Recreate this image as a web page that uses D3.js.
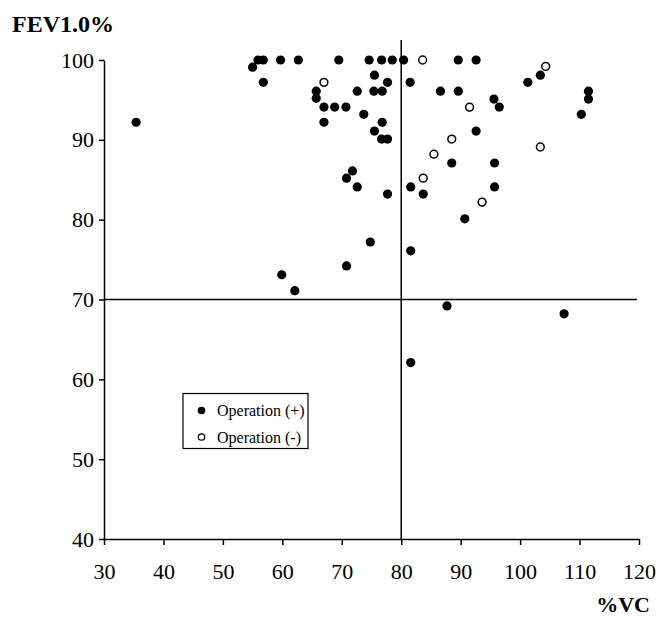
<!DOCTYPE html>
<html>
<head>
<meta charset="utf-8">
<title>FEV1.0% vs %VC</title>
<style>
    body { margin: 0; background: #fff; }
    svg { display: block; }
    .axis path, .axis line { stroke: #000; stroke-width: 1.5px; }
    .axis text { font: 22px "Liberation Serif", "Times New Roman", serif; fill: #000; }
    .title { font: bold 22px "Liberation Serif", "Times New Roman", serif; }
    .legend text { font: 16px "Liberation Serif", "Times New Roman", serif; }
</style>
</head>
<body>
<script src="https://cdnjs.cloudflare.com/ajax/libs/d3/7.8.5/d3.min.js"></script>
<script>
    // Operation (+) : [%VC, FEV1.0%]
    const opPlus = [
        [55.0, 99.1], [55.9, 100], [56.8, 100], [56.8, 97.2], [59.7, 100], [62.7, 100],
        [69.5, 100], [74.6, 100], [76.7, 100], [78.5, 100], [80.4, 100], [89.6, 100], [92.6, 100],
        [75.5, 98.1], [77.7, 97.2], [81.5, 97.2], [101.3, 97.2], [103.4, 98.1],
        [65.7, 96.1], [65.7, 95.2], [72.6, 96.1], [75.4, 96.1], [76.8, 96.1],
        [86.6, 96.1], [89.6, 96.1], [95.6, 95.1], [96.5, 94.1], [111.5, 96.1], [111.5, 95.1],
        [67.0, 94.1], [68.8, 94.1], [70.7, 94.1], [73.7, 93.2], [110.3, 93.2],
        [35.4, 92.2], [67.0, 92.2], [76.8, 92.2], [75.5, 91.1], [92.6, 91.1],
        [76.7, 90.1], [77.7, 90.1],
        [71.8, 86.1], [70.8, 85.2], [88.5, 87.1], [95.7, 87.1],
        [72.6, 84.1], [81.6, 84.1], [95.7, 84.1], [77.7, 83.2], [83.7, 83.2],
        [90.7, 80.1], [74.8, 77.2], [81.6, 76.1], [70.8, 74.2], [59.9, 73.1],
        [62.1, 71.1], [87.7, 69.2], [107.4, 68.2], [81.6, 62.1]
    ];
    // Operation (-)
    const opMinus = [
        [67.0, 97.2], [83.6, 100], [104.3, 99.2], [91.5, 94.1], [88.5, 90.1],
        [103.4, 89.1], [85.5, 88.2], [83.7, 85.2], [93.6, 82.2]
    ];
    const xTicks = [30, 40, 50, 60, 70, 80, 90, 100, 110, 120];
    const yTicks = [40, 50, 60, 70, 80, 90, 100];
    const cutX = 80;
    const cutY = 70;
    const legendLabels = ["Operation (+)", "Operation (-)"];

    const width = 661, height = 618;
    const svg = d3.select("body").append("svg")
        .attr("width", width)
        .attr("height", height);

    const x = d3.scaleLinear().domain([30, 120]).range([104, 639]);
    const y = d3.scaleLinear().domain([40, 100]).range([539, 60]);

    // axes
    const xAxis = svg.append("g")
        .attr("class", "axis")
        .attr("transform", `translate(0,${y(40)})`)
        .call(d3.axisBottom(x).tickValues(xTicks).tickSize(6).tickSizeOuter(0));
    xAxis.selectAll("text").attr("dy", null).attr("y", 40);

    const yAxis = svg.append("g")
        .attr("class", "axis")
        .attr("transform", `translate(${x(30)},0)`)
        .call(d3.axisLeft(y).tickValues(yTicks).tickSize(5).tickSizeOuter(0).tickPadding(5));

    // reference lines
    svg.append("line")
        .attr("x1", x(cutX)).attr("x2", x(cutX))
        .attr("y1", 40).attr("y2", y(40))
        .attr("stroke", "#000").attr("stroke-width", 1.5);
    svg.append("line")
        .attr("x1", x(30)).attr("x2", x(120) - 2)
        .attr("y1", y(cutY)).attr("y2", y(cutY))
        .attr("stroke", "#000").attr("stroke-width", 1.5);

    // points
    svg.append("g").selectAll("circle")
        .data(opPlus)
        .join("circle")
        .attr("cx", d => x(d[0]))
        .attr("cy", d => y(d[1]))
        .attr("r", 4.6)
        .attr("fill", "#000");

    svg.append("g").selectAll("circle")
        .data(opMinus)
        .join("circle")
        .attr("cx", d => x(d[0]))
        .attr("cy", d => y(d[1]))
        .attr("r", 3.9)
        .attr("fill", "#fff")
        .attr("stroke", "#000")
        .attr("stroke-width", 1.5);

    // axis titles
    svg.append("text")
        .attr("class", "title")
        .attr("x", 12).attr("y", 32)
        .style("font-size", "24px")
        .text("FEV1.0%");
    svg.append("text")
        .attr("class", "title")
        .attr("x", 650).attr("y", 612)
        .attr("text-anchor", "end")
        .text("%VC");

    // legend
    const legend = svg.append("g").attr("class", "legend");
    legend.append("rect")
        .attr("x", 183).attr("y", 393.5)
        .attr("width", 125).attr("height", 55)
        .attr("fill", "none")
        .attr("stroke", "#000")
        .attr("stroke-width", 1.2);
    const rows = legend.selectAll("g.row")
        .data(legendLabels)
        .join("g")
        .attr("class", "row")
        .attr("transform", (d, i) => `translate(0,${410.5 + i * 26.5})`);
    rows.append("circle")
        .attr("cx", 201.5)
        .attr("cy", 0)
        .attr("r", (d, i) => i === 0 ? 3.8 : 3.2)
        .attr("fill", (d, i) => i === 0 ? "#000" : "#fff")
        .attr("stroke", "#000")
        .attr("stroke-width", (d, i) => i === 0 ? 0 : 1.3);
    rows.append("text")
        .attr("x", 217)
        .attr("y", 5.5)
        .text(d => d);
</script>
</body>
</html>
